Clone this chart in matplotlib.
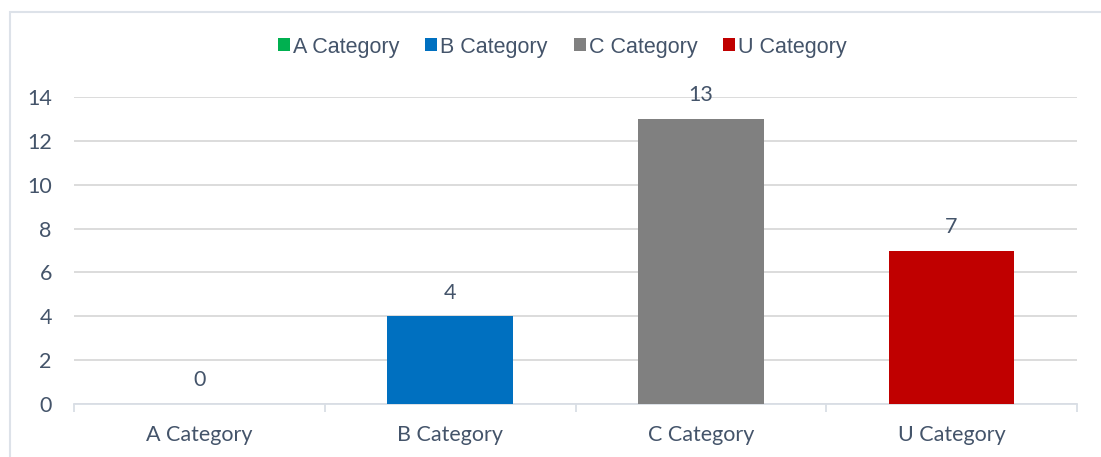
import matplotlib.pyplot as plt
from matplotlib.patches import Rectangle, Patch

categories = ["A Category", "B Category", "C Category", "U Category"]
counts = [0, 4, 13, 7]
colors = ["#00B050", "#0070C0", "#808080", "#C00000"]

TEXT = "#44546A"
W, H = 1101, 457

fig = plt.figure(figsize=(W / 100, H / 100), dpi=100)

# outer chart border (runs off the right/bottom edge like the screenshot)
fig.patches.append(Rectangle((10 / W, -0.1), 1.2, (H - 12) / H + 0.1,
                             transform=fig.transFigure, fill=False,
                             edgecolor="#DDE2E9", linewidth=1.5))

ax = fig.add_axes([74 / W, (H - 404) / H, (1077 - 74) / W, (404 - 97) / H])

x = range(len(categories))
ax.bar(x, counts, width=0.5, color=colors, zorder=3)
for xi, v in zip(x, counts):
    ax.annotate(str(v), (xi, v), xytext=(0, 17), textcoords="offset points",
                ha="center", va="center", color=TEXT, fontsize=15.5,
                family="Lato")

ax.set_xlim(-0.5, len(categories) - 0.5)
ax.set_ylim(0, 14)
ax.set_yticks(range(0, 15, 2))
ax.yaxis.grid(True, color="#D9D9D9", linewidth=1.3, zorder=0)
ax.tick_params(axis="y", length=0, pad=16, labelsize=15.5, labelcolor=TEXT)
ax.set_xticks(list(x))
ax.set_xticklabels(categories)
ax.tick_params(axis="x", length=0, pad=15, labelsize=15.5, labelcolor=TEXT)
# category separator ticks
ax.set_xticks([i - 0.5 for i in range(len(categories) + 1)], minor=True)
ax.tick_params(axis="x", which="minor", length=6, color="#D9DEE5", width=1.3)
for lab in ax.get_xticklabels() + ax.get_yticklabels():
    lab.set_family("Lato")

for s in ["top", "right", "left"]:
    ax.spines[s].set_visible(False)
ax.spines["bottom"].set_color("#D9DEE5")
ax.spines["bottom"].set_linewidth(1.3)

handles = [Patch(facecolor=c, label=l) for c, l in zip(colors, categories)]
fig.legend(handles=handles, loc="center",
           bbox_to_anchor=(0.5 + 12 / W, (H - 47) / H),
           ncol=4, frameon=False, handlelength=0.55, handleheight=0.55,
           handletextpad=0.15, columnspacing=1.2,
           prop={"family": "Liberation Sans", "size": 15.5},
           labelcolor=TEXT)

fig.savefig("out.png", dpi=100)
